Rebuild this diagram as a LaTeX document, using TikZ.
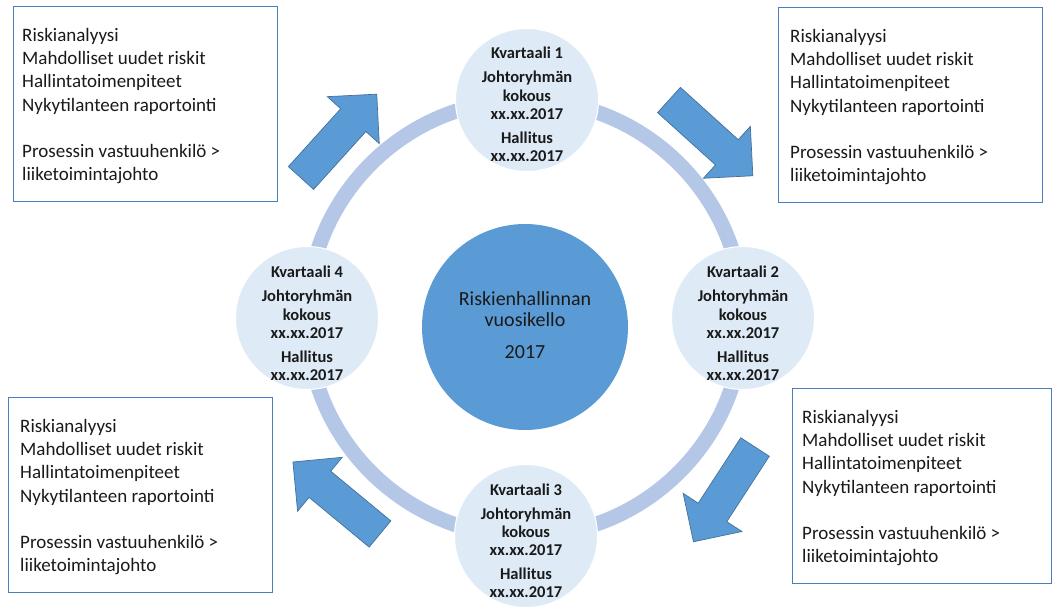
\documentclass[tikz,border=0pt]{standalone}
\usepackage{fontspec}
\setmainfont{Carlito}
\definecolor{ringblue}{HTML}{B4C7E7}
\definecolor{paleblue}{HTML}{DEEBF7}
\definecolor{midblue}{HTML}{5B9BD5}
\definecolor{arrowedge}{HTML}{41719C}
\definecolor{boxblue}{HTML}{4A7EBB}
\definecolor{textdark}{HTML}{1A1A1A}

% block arrow: #1 = middle of the tail, #2 = direction in degrees
\newcommand\quarterarrow[2]{%
  \draw[flowarrow, shift={(#1)}, rotate=#2]
    (0,-17) -- (78,-17) -- (78,-35) -- (113,0) -- (78,35) -- (78,17) -- (0,17) -- cycle;}

\newcommand\boxlines{Riskianalyysi\\ Mahdolliset uudet riskit\\ Hallintatoimenpiteet\\
  Nykytilanteen raportointi\\[23pt] Prosessin vastuuhenkilö >\\ liiketoimintajohto}

\newcommand\quarterlines[1]{Kvartaali #1\\[5.5pt] Johtoryhmän\\ kokous\\ xx.xx.2017\\[5.5pt] Hallitus\\ xx.xx.2017}

\begin{document}
\begin{tikzpicture}[x=1pt,y=-1pt,
  ringline/.style={draw=ringblue, line width=15pt},
  quarter/.style={circle, fill=paleblue, draw=white, line width=1pt, minimum size=143pt, inner sep=0pt},
  quartertext/.style={align=center, font=\bfseries\fontsize{16.5}{18.3}\selectfont, text=textdark, inner sep=0pt},
  hub/.style={circle, fill=midblue, minimum size=206pt, inner sep=0pt},
  hubtext/.style={align=center, font=\fontsize{20}{21.3}\selectfont, text=textdark, inner sep=0pt},
  infobox/.style={draw=boxblue, line width=1pt, fill=white, anchor=north west, inner sep=0pt,
    minimum width=264pt, minimum height=195pt},
  infotext/.style={align=left, anchor=north west, font=\fontsize{19}{23.3}\selectfont,
    inner sep=0pt, text=textdark},
  flowarrow/.style={fill=midblue, draw=arrowedge, line width=0.7pt, line join=miter}
]
\useasboundingbox[fill=white] (0,0) rectangle (1052,610);

% the yearly ring
\coordinate (c) at (525,318);
\draw[ringline] (c) circle[radius=218];

% quarter circles on the ring
\node[quarter] (q1) at (527,100) {};
\node[quarter] (q2) at (743,318) {};
\node[quarter] (q3) at (526,536) {};
\node[quarter] (q4) at (307,318) {};
\node[quartertext] (q1t) at ([yshift=-4.5pt]q1.center) {\quarterlines{1}};
\node[quartertext] (q2t) at ([yshift=-5.5pt]q2.center) {\quarterlines{2}};
\node[quartertext] (q3t) at ([yshift=-5pt]q3.center) {\quarterlines{3}};
\node[quartertext] (q4t) at ([yshift=-5.5pt]q4.center) {\quarterlines{4}};

% centre
\node[hub] (hub) at (525,327) {};
\node[hubtext] (hubt) at ([yshift=2pt]hub.center) {Riskienhallinnan\\ vuosikello\\[10pt] 2017};

% report boxes
\node[infobox] (b1) at (13,6) {};
\node[infobox] (b2) at (778,7) {};
\node[infobox, minimum width=259pt] (b3) at (792,388) {};
\node[infobox] (b4) at (8,397) {};
\node[infotext] (b1t) at ([xshift=9pt,yshift=-22pt]b1.north west) {\boxlines};
\node[infotext] (b2t) at ([xshift=12pt,yshift=-22pt]b2.north west) {\boxlines};
\node[infotext] (b3t) at ([xshift=10pt,yshift=-22pt]b3.north west) {\boxlines};
\node[infotext] (b4t) at ([xshift=12pt,yshift=-22pt]b4.north west) {\boxlines};

% arrows between quarters and boxes
\quarterarrow{301,178}{47.9}
\quarterarrow{669,100}{-42.1}
\quarterarrow{755,447}{-123}
\quarterarrow{380,534}{140.4}
\end{tikzpicture}
\end{document}
